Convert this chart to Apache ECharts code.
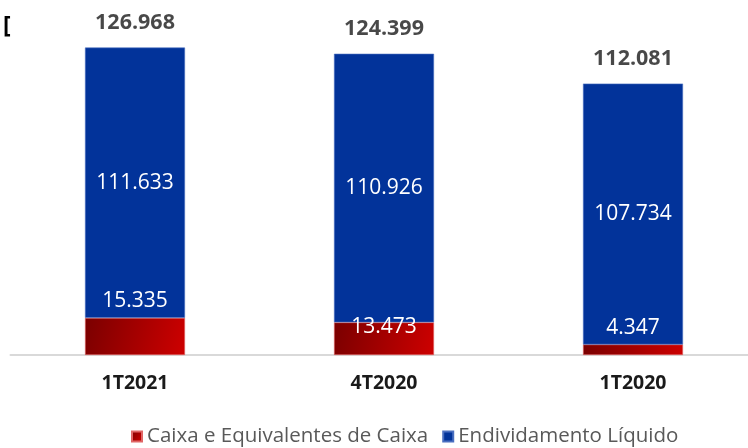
<!DOCTYPE html>
<html>
<head>
<meta charset="utf-8">
<script src="https://cdn.jsdelivr.net/npm/echarts@6/dist/echarts.min.js"></script>
<style>
  html, body { margin: 0; padding: 0; background: #ffffff; }
  #chart { width: 748px; height: 448px; }
</style>
</head>
<body>
<div id="chart"></div>
<script>
// Periods shown on the x axis
const periods = ['1T2021', '4T2020', '1T2020'];
// Cash and equivalents (bottom segment)
const caixa = [15.335, 13.473, 4.347];
// Net debt (top segment)
const endividamento = [111.633, 110.926, 107.734];
// Gross debt totals shown above each bar
const totais = [126.968, 124.399, 112.081];

const seriesNames = ['Caixa e Equivalentes de Caixa', 'Endividamento Líquido'];

const FONT = '"Open Sans", "Noto Sans", sans-serif';
const fmt = v => v.toFixed(3);

const redFill = new echarts.graphic.LinearGradient(0, 0, 1, 0.7, [
  { offset: 0, color: '#7a0000' },
  { offset: 1, color: '#cc0000' }
]);

// Cash labels sit just above the red segment, except the middle bar
const caixaData = caixa.map((v, i) => i === 1
  ? { value: v, label: { position: 'top', distance: 0, offset: [0, 15] } }
  : { value: v });

const chart = echarts.init(document.getElementById('chart'), null, { renderer: 'canvas' });

chart.setOption({
  animation: false,
  backgroundColor: '#ffffff',
  textStyle: { fontFamily: FONT },
  grid: { left: 10.5, right: -9.5, top: 16, bottom: 93, containLabel: false, outerBoundsMode: 'none' },
  legend: {
    data: seriesNames,
    bottom: -4,
    left: 126,
    itemWidth: 10,
    itemHeight: 10,
    itemGap: 14,
    icon: 'rect',
    textStyle: { color: '#595959', fontSize: 20.5, fontFamily: FONT }
  },
  xAxis: {
    type: 'category',
    data: periods,
    axisLine: { lineStyle: { color: '#d9d9d9', width: 2 } },
    axisTick: { show: false },
    axisLabel: { color: '#1a1a1a', fontSize: 19.5, fontWeight: 'bold', margin: 18, fontFamily: FONT }
  },
  yAxis: {
    type: 'value',
    min: 0,
    max: 140,
    show: false,
    splitLine: { show: false }
  },
  series: [
    {
      name: seriesNames[0],
      type: 'bar',
      stack: 'divida',
      barWidth: 100,
      data: caixaData,
      itemStyle: { color: redFill, borderColor: '#e06666', borderWidth: 0.6 },
      label: {
        show: true,
        position: 'top',
        distance: 6,
        color: '#ffffff',
        fontSize: 21,
        fontFamily: FONT,
        formatter: p => fmt(p.value)
      }
    },
    {
      name: seriesNames[1],
      type: 'bar',
      stack: 'divida',
      barWidth: 100,
      data: endividamento,
      itemStyle: { color: '#02339a', borderColor: '#4a6fc0', borderWidth: 0.6 },
      label: {
        show: true,
        position: 'inside',
        color: '#ffffff',
        fontSize: 21,
        fontFamily: FONT,
        formatter: p => fmt(p.value)
      }
    },
    {
      name: 'Total',
      type: 'scatter',
      data: totais,
      symbolSize: 0,
      silent: true,
      label: {
        show: true,
        position: 'top',
        distance: 14,
        color: '#1a1a1a',
        fontSize: 21.5,
        fontWeight: 'bold',
        fontFamily: FONT,
        formatter: p => fmt(p.value)
      }
    }
  ],
  graphic: [
    {
      type: 'text',
      left: 3,
      top: 15,
      style: { text: '[', fontSize: 23, fontWeight: 'bold', fill: '#000000', fontFamily: FONT }
    }
  ]
});
</script>
</body>
</html>
